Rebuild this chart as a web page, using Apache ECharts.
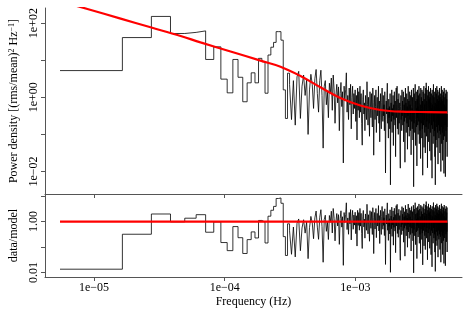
<!DOCTYPE html>
<html>
<head>
<meta charset="utf-8">
<script src="https://cdn.jsdelivr.net/npm/echarts@6/dist/echarts.min.js"></script>
<style>
  html, body { margin: 0; padding: 0; background: #fff; }
  #chart { width: 472px; height: 327px; }
</style>
</head>
<body>
<div id="chart"></div>
<script>
// periodogram: frequencies are odd multiples of baseFreq (Hz), power in log10 units
const baseFreq = 5.5e-6;
const logPower = [
  0.72, 1.61, 2.18, 1.72, 1.75, 1.79, 1.02, 1.36, 0.49, 0.12,
  1.02, 0.54, -0.12, 0.39, 0.66, 0.39, 1.05, 0.96, 0.11, 1.14,
  1.35, 1.48, 1.77, 1.77, 1.54, 0.20, -0.57, 0.65, 0.35, -0.60,
  0.45, -0.75, 0.55, 0.70, -0.57, 0.30, 0.60, 0.05, 0.48, -1.00,
  0.20, 0.62, 0.35, -0.30, 0.50, 0.75, 0.10, -0.40, 0.45, 0.73,
  0.05, -1.37, 0.30, 0.45, -0.20, 0.15, -0.55, 0.38, 0.10, 0.52,
  -0.35, 0.60, 0.20, -0.70, 0.05, 0.35, -0.15, 0.28, -0.90, 0.10,
  0.40, -0.25, 0.15, -1.77, 0.30, -0.10, 0.20, 0.66, -0.40, 0.05,
  -0.60, 0.25, -0.20, 0.35, -0.85, 0.00, 0.30, -0.45, 0.10, -0.30,
  0.20, -0.65, 0.05, -1.15, 0.25, -0.35, 0.15, -0.55, 0.30, -0.40,
  0.10, -0.70, -1.29, -0.05, 0.20, -0.45, -0.15, -0.90, 0.05, -0.30,
  -0.60, 0.42, -0.20, -0.75, 0.00, -0.40, -1.05, 0.15, -0.25, -0.55,
  0.10, -0.35, -0.80, 0.25, -0.15, -1.56, -0.45, 0.05, -0.60, -0.25,
  0.20, -0.95, -0.35, 0.00, -0.50, -0.20, 0.30, -0.70, -0.10, -1.20,
  -0.30, 0.10, -0.55, -0.85, -0.15, 0.25, -0.45, -0.65, 0.05, -0.50,
  -0.20, -0.90, 0.15, -0.35, -2.04, -0.60, -0.10, -0.45, 0.00, 0.38,
  -0.70, -0.30, -1.10, -0.05, -0.55, -0.25, -0.85, 0.10, -2.36, -0.40,
  -0.15, -0.65, 0.20, -0.95, -0.30, -0.50, 0.05, -1.30, -0.20, -0.60,
  0.15, -0.45, -0.75, -0.10, -1.60, -0.35, 0.25, -0.55, -0.20, 0.30,
  -0.85, -0.40, -0.05, -1.00, -0.30, 0.10, -0.70, -0.45, -0.15, -1.45,
  -1.91, -0.25, 0.05, -0.60, -0.35, -0.90, 0.20, -0.50, -0.10, -0.75,
  -0.30, 0.15, -1.20, -0.45, -0.20, -0.65, 0.00, -1.75, -0.35, 0.25,
  -0.55, -0.15, -0.95, -0.40, 0.10, -0.70, -0.25, -1.40, -0.05, -0.50,
  0.30, -0.80, -0.35, -0.10, -1.05, -0.45, 0.15, -0.60, -0.20, -0.90,
  0.05, -0.40, -1.55, -0.25, 0.20, -0.65, -0.30, -0.85, 0.00, -0.50,
  -1.15, -0.15, 0.25, -2.41, -0.35, -0.70, 0.10, -0.45, -0.95, -0.20,
  0.35, -0.60, -1.30, -0.10, -0.40, 0.15, -0.80, -0.30, -1.85, -0.05,
  -0.55, 0.20, -0.75, -0.25, -1.00, 0.05, -0.45, -0.65, 0.30, -0.35,
  -1.25, -0.15, 0.10, -0.90, -0.50, -0.20, -1.65, 0.25, -0.40, -0.70,
  0.00, -0.30, -1.10, 0.20, -0.55, -0.85, -0.10, -2.10, -0.45, 0.15,
  -0.25, -0.75, -0.40, 0.30, -1.35, -0.05, -0.60, -0.20, -0.95, 0.10,
  -0.50, -1.50, -0.15, 0.25, -0.35, -0.80, 0.39, -0.45, -1.05, -0.10,
  -0.65, 0.20, -0.30, -1.90, -0.55, 0.05, -0.40, -0.85, -0.20, 0.30,
  -1.20, -0.45, -0.05, -0.70, 0.15, -0.35, -1.45, -0.25, 0.00, -0.60,
  -0.95, 0.25, -0.40, -0.15, -1.70, -0.50, 0.10, -0.75, -0.30, -1.00,
  -2.18, 0.20, -0.45, -0.20, -0.85, 0.05, -0.55, -1.25, -0.10, 0.35,
  -0.65, -0.35, -1.05, 0.00, -0.50, -0.25, -0.90, 0.15, -1.60, -0.40,
  -0.15, -2.36, -0.70, 0.25, -0.30, -0.55, -1.15, 0.10, -0.45, -0.20,
  -0.80, 0.30, -1.35, -0.35, -0.05, -0.60, -0.95, 0.20, -0.25, -1.80,
  -0.50, 0.05, -0.40, -0.75, -0.10, -1.10, 0.15, -0.55, -0.30, -0.90,
  0.25, -0.45, -1.50, -0.20, 0.00, -0.65, -1.00, -0.35, 0.10, -2.00,
  -0.50, -0.15, -0.80, 0.30, -0.40, -1.25, -0.05, -0.60, -0.30, 0.20,
  -0.95, -0.45, -1.70, -0.10, -0.55, 0.05, -0.85, -0.35, -1.15, 0.15,
  -0.25, -0.70, -2.05, -0.40, 0.25, -0.60, -0.20, -1.05, -0.50, 0.00,
  -0.75, -0.30, -1.40, -2.14, -0.45, 0.10, -0.65, -0.25, -0.90, 0.20,
  -0.50, -1.20, -0.35, -0.05, -0.80, -0.40, 0.15, -1.60, -0.45
];

// fitted model (bending power law + constant)
const modelLogFreq = [-5.260, -5.050, -4.796, -4.567, -4.337, -4.185, -3.955, -3.726, -3.573,
  -3.420, -3.268, -3.115, -2.962, -2.809, -2.656, -2.503, -2.297];
const modelLogPower = [2.593, 2.380, 2.121, 1.887, 1.652, 1.480, 1.235, 0.989, 0.825,
  0.574, 0.270, -0.019, -0.221, -0.342, -0.388, -0.396, -0.404];

const xTicks = [-5, -4, -3];
const topYTicks = [-2, -1, 0, 1, 2];
const topYLabels = [-2, 0, 2];
const botYTicks = [-2, -1, 0, 1];
const botYLabels = [-2, 0];

const FONT = 'Liberation Serif';
const AXIS_COLOR = '#555';
const DATA_COLOR = '#000';

function modelAt(lf) {
  const n = modelLogFreq.length;
  if (lf <= modelLogFreq[0]) return modelLogPower[0];
  for (let i = 1; i < n; i++) {
    if (lf <= modelLogFreq[i]) {
      const t = (lf - modelLogFreq[i - 1]) / (modelLogFreq[i] - modelLogFreq[i - 1]);
      return modelLogPower[i - 1] + t * (modelLogPower[i] - modelLogPower[i - 1]);
    }
  }
  return modelLogPower[n - 1];
}

const logFreq = logPower.map((_, i) => Math.log10((2 * i + 1) * baseFreq));
const spectrum = logPower.map((p, i) => [logFreq[i], p]);
const ratio = logPower.map((p, i) => [logFreq[i], p - modelAt(logFreq[i])]);
const model = modelLogFreq.map((f, i) => [f, modelLogPower[i]]);
const unity = [[logFreq[0], 0], [logFreq[logFreq.length - 1], 0]];

function sciLabel(v) {
  const e = Math.round(v);
  const sign = e < 0 ? '\u2212' : '+';
  return '1e' + sign + String(Math.abs(e)).padStart(2, '0');
}

const xRange = { min: -5.3745, max: -2.1846 };

function xAxis(gridIndex, withLabels) {
  return {
    type: 'value',
    gridIndex,
    min: xRange.min,
    max: xRange.max,
    axisLine: { show: true, onZero: false, lineStyle: { color: AXIS_COLOR, width: 1 } },
    axisTick: { show: true, customValues: xTicks, length: 4, lineStyle: { color: AXIS_COLOR } },
    axisLabel: withLabels
      ? { show: true, customValues: xTicks, formatter: sciLabel, margin: 5,
          color: '#000', fontFamily: FONT, fontSize: 12 }
      : { show: false },
    splitLine: { show: false },
    name: withLabels ? 'Frequency (Hz)' : '',
    nameLocation: 'middle',
    nameGap: 19,
    nameTextStyle: { color: '#000', fontFamily: FONT, fontSize: 12 }
  };
}

const chart = echarts.init(document.getElementById('chart'), null, { renderer: 'canvas' });

chart.setOption({
  animation: false,
  backgroundColor: '#fff',
  grid: [
    { left: 44, top: 8, width: 418, height: 186 },
    { left: 44, top: 194, width: 418, height: 83 }
  ],
  xAxis: [xAxis(0, false), xAxis(1, true)],
  yAxis: [
    {
      type: 'value',
      gridIndex: 0,
      min: -2.606,
      max: 2.407,
      axisLine: { show: true, onZero: false, lineStyle: { color: AXIS_COLOR, width: 1 } },
      axisTick: { show: true, customValues: topYTicks, length: 4, lineStyle: { color: AXIS_COLOR } },
      axisLabel: { show: true, customValues: topYLabels, formatter: sciLabel, rotate: 90, margin: 5,
        color: '#000', fontFamily: FONT, fontSize: 12 },
      splitLine: { show: false },
      name: 'Power density [(rms/mean){sup|2} Hz{sup|\u22121}]',
      nameLocation: 'middle',
      nameRotate: 90,
      nameGap: 25,
      nameTextStyle: {
        color: '#000', fontFamily: FONT, fontSize: 12,
        rich: { sup: { fontSize: 8, verticalAlign: 'top', fontFamily: FONT, color: '#000' } }
      }
    },
    {
      type: 'value',
      gridIndex: 1,
      min: -2.18,
      max: 1.086,
      axisLine: { show: true, onZero: false, lineStyle: { color: AXIS_COLOR, width: 1 } },
      axisTick: { show: true, customValues: botYTicks, length: 4, lineStyle: { color: AXIS_COLOR } },
      axisLabel: { show: true, customValues: botYLabels, rotate: 90, margin: 5,
        formatter: v => Math.pow(10, v).toFixed(2),
        color: '#000', fontFamily: FONT, fontSize: 12 },
      splitLine: { show: false },
      name: 'data/model',
      nameLocation: 'middle',
      nameRotate: 90,
      nameGap: 25,
      nameTextStyle: { color: '#000', fontFamily: FONT, fontSize: 12 }
    }
  ],
  series: [
    {
      type: 'line', xAxisIndex: 0, yAxisIndex: 0, data: spectrum,
      step: 'end', symbol: 'none', silent: true,
      lineStyle: { color: DATA_COLOR, width: 0.8 }
    },
    {
      type: 'line', xAxisIndex: 0, yAxisIndex: 0, data: model,
      smooth: 0.4, symbol: 'none', silent: true,
      lineStyle: { color: '#ff0000', width: 2.2 }
    },
    {
      type: 'line', xAxisIndex: 1, yAxisIndex: 1, data: ratio,
      step: 'end', symbol: 'none', silent: true,
      lineStyle: { color: DATA_COLOR, width: 0.8 }
    },
    {
      type: 'line', xAxisIndex: 1, yAxisIndex: 1, data: unity,
      symbol: 'none', silent: true,
      lineStyle: { color: '#ff0000', width: 2.2 }
    }
  ]
});
</script>
</body>
</html>
